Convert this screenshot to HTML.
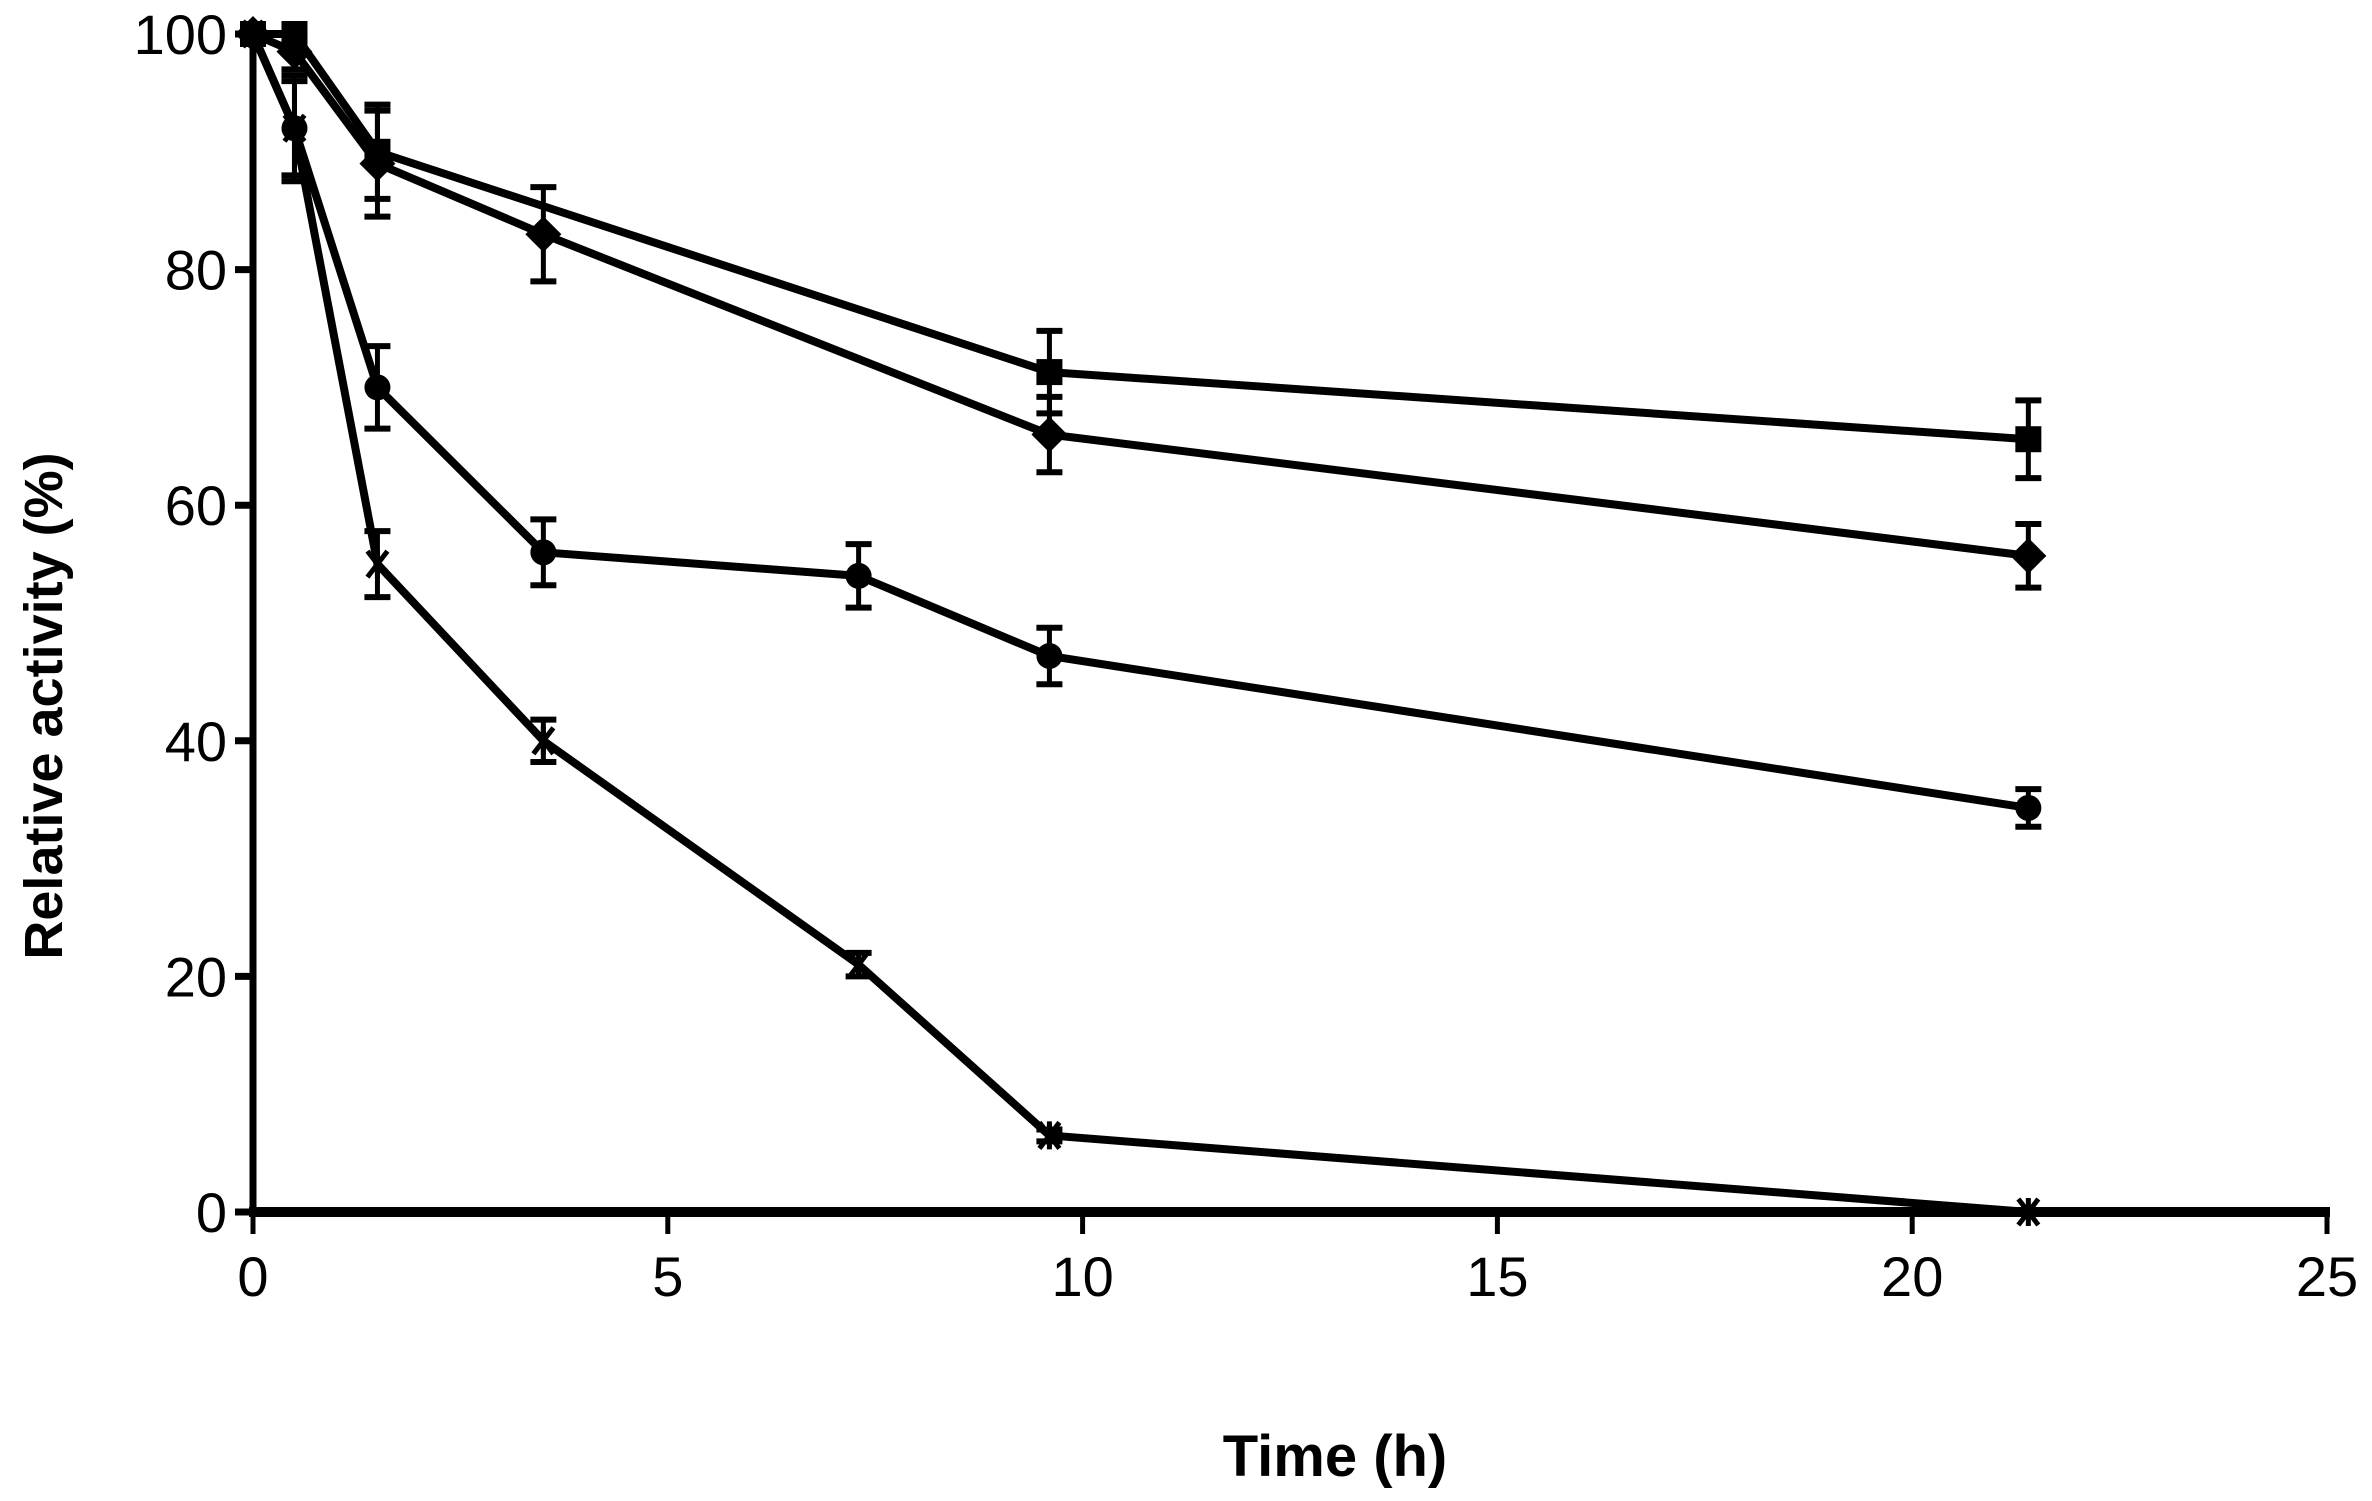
<!DOCTYPE html>
<html><head><meta charset="utf-8"><style>
html,body{margin:0;padding:0;background:#fff;}
svg{display:block;font-family:"Liberation Sans",sans-serif;}
</style></head><body>
<svg id="s" width="2372" height="1501" viewBox="0 0 2372 1501" xmlns="http://www.w3.org/2000/svg">
<rect width="2372" height="1501" fill="#fff"/>
<g id="g"></g>
<text x="1335" y="1476" font-size="58" font-weight="bold" text-anchor="middle">Time (h)</text>
<text transform="translate(62,706) rotate(-90)" font-size="54" font-weight="bold" text-anchor="middle">Relative activity (%)</text>
</svg>
<script>
var X0=253,XS=82.96,Y0=1212,YS=11.78;
function px(t){return X0+t*XS;} function py(v){return Y0-v*YS;}
var g=document.getElementById('g'),h='';
h+='<line x1="'+X0+'" y1="'+py(100)+'" x2="'+X0+'" y2="'+(Y0+4)+'" stroke="#000" stroke-width="7"/>';
h+='<line x1="'+(X0-4)+'" y1="'+Y0+'" x2="2330" y2="'+Y0+'" stroke="#000" stroke-width="10"/>';
for(var v=0;v<=100;v+=20){var y=py(v);h+='<line x1="'+(X0-18)+'" y1="'+y+'" x2="'+X0+'" y2="'+y+'" stroke="#000" stroke-width="7"/>';
h+='<text x="'+(X0-26)+'" y="'+(y+20)+'" font-size="56" text-anchor="end">'+v+'</text>';}
for(var t=0;t<=25;t+=5){var x=px(t);h+='<line x1="'+x+'" y1="'+Y0+'" x2="'+x+'" y2="'+(Y0+22)+'" stroke="#000" stroke-width="5"/>';
h+='<text x="'+x+'" y="'+(Y0+84)+'" font-size="56" text-anchor="middle">'+t+'</text>';}
var S=[
 {m:'sq',d:[[0,100,0],[0.5,100,0],[1.5,90,4],[9.6,71.3,3.5],[21.4,65.6,3.3]]},
 {m:'di',d:[[0,100,0],[0.5,98.5,1.5],[1.5,89,4.5],[3.5,83,4],[9.6,66,3.2],[21.4,55.7,2.7]]},
 {m:'ci',d:[[0,100,0],[0.5,92,4.5],[1.5,70,3.5],[3.5,56,2.8],[7.3,54,2.7],[9.6,47.2,2.4],[21.4,34.3,1.6]]},
 {m:'x',d:[[0,100,0],[0.5,92,4],[1.5,55,2.8],[3.5,40,1.8],[7.3,21,1],[9.6,6.5,0.5],[21.4,0,0]]}
];
S.forEach(function(s){
 var pts=s.d.map(function(p){return px(p[0])+','+py(p[1]);}).join(' ');
 h+='<polyline points="'+pts+'" fill="none" stroke="#000" stroke-width="8" stroke-linejoin="round"/>';
 s.d.forEach(function(p){var x=px(p[0]),y=py(p[1]);
  if(p[2]>0){var a=py(p[1]+p[2]),b=py(p[1]-p[2]);
   h+='<line x1="'+x+'" y1="'+a+'" x2="'+x+'" y2="'+b+'" stroke="#000" stroke-width="5"/>';
   h+='<line x1="'+(x-13)+'" y1="'+a+'" x2="'+(x+13)+'" y2="'+a+'" stroke="#000" stroke-width="6"/>';
   h+='<line x1="'+(x-13)+'" y1="'+b+'" x2="'+(x+13)+'" y2="'+b+'" stroke="#000" stroke-width="6"/>';}
  if(s.m=='sq')h+='<rect x="'+(x-13)+'" y="'+(y-13)+'" width="26" height="26"/>';
  else if(s.m=='di')h+='<polygon points="'+x+','+(y-18)+' '+(x+18)+','+y+' '+x+','+(y+18)+' '+(x-18)+','+y+'"/>';
  else if(s.m=='ci')h+='<circle cx="'+x+'" cy="'+y+'" r="13"/>';
  else h+='<path d="M'+(x-10)+' '+(y-13)+'L'+(x+10)+' '+(y+13)+'M'+(x+10)+' '+(y-13)+'L'+(x-10)+' '+(y+13)+'M'+x+' '+(y-14)+'V'+(y+14)+'" stroke="#000" stroke-width="5"/>';
 });
});
g.innerHTML=h;
</script>
</body></html>
